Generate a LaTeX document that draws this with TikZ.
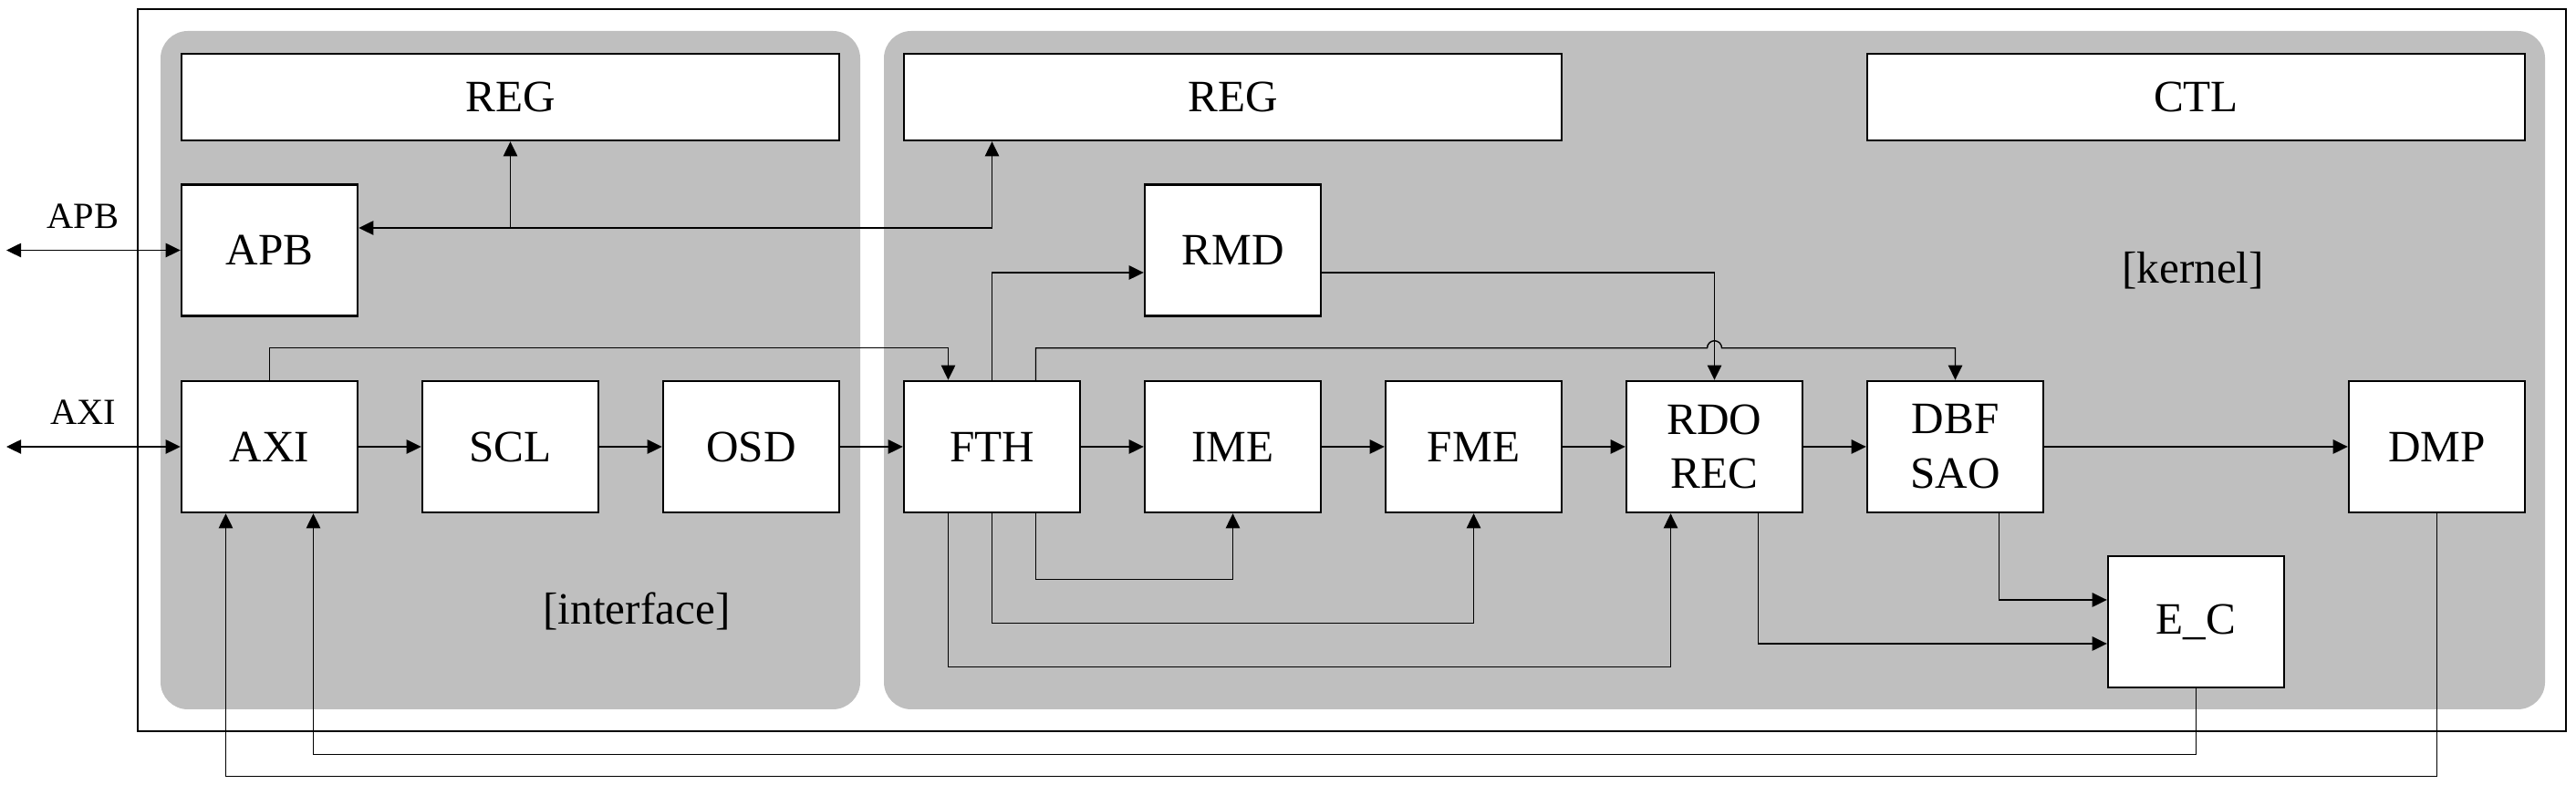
\documentclass[tikz,border=0pt]{standalone}
\usepackage{fontspec}
\setmainfont{Liberation Serif}
\usetikzlibrary{arrows.meta,calc}

\begin{document}
\begin{tikzpicture}[
	blk/.style={draw, fill=white, line width=0.7pt, minimum width=1.93cm, minimum height=1.44cm, inner sep=0pt, align=center, font=\fontsize{14}{17}\selectfont},
	wide/.style={blk, minimum width=7.21cm, minimum height=0.95cm},
	conn/.style={line width=0.4pt, -{Triangle[length=4.6pt,width=4.4pt]}},
	lbl/.style={font=\fontsize{14}{17}\selectfont},
	extlbl/.style={font=\fontsize{11.5}{14}\selectfont},
	]
	\newcommand{\panelcolor}{black!25}
	
		\def\outerbox{(1.51,0.59) rectangle (28.13,8.51)}
		\def\panelIF{(1.76,0.83) rectangle (9.43,8.27)}
		\def\panelKN{(9.69,0.83) rectangle (27.90,8.27)}

		\useasboundingbox (0,0) rectangle (28.24,8.61);
		\draw[line width=0.7pt] \outerbox;
		\fill[\panelcolor, rounded corners=0.3cm] \panelIF;
		\fill[\panelcolor, rounded corners=0.3cm] \panelKN;

		% register / control blocks
		\node[wide] (regA) at (5.595,7.545) {REG};
		\node[wide] (regB) at (13.515,7.545) {REG};
		\node[wide] (ctl) at (24.075,7.545) {CTL};

		\node[blk] (apb) at (2.955,5.865) {APB};
		\node[blk] (rmd) at (13.515,5.865) {RMD};

		% main pipeline
		\node[blk] (axi) at (2.955,3.71) {AXI};
		\node[blk] (scl) at (5.595,3.71) {SCL};
		\node[blk] (osd) at (8.235,3.71) {OSD};
		\node[blk] (fth) at (10.875,3.71) {FTH};
		\node[blk] (ime) at (13.515,3.71) {IME};
		\node[blk] (fme) at (16.155,3.71) {FME};
		\node[blk] (rdo) at (18.795,3.71) {RDO\\REC};
		\node[blk] (dbf) at (21.435,3.71) {DBF\\SAO};
		\node[blk] (dmp) at (26.715,3.71) {DMP};
		\node[blk] (ec) at (24.075,1.79) {E\_C};

		\node[lbl] (iflbl) at (6.98,1.91) {[interface]};
		\node[lbl] (knlbl) at (24.04,5.64) {[kernel]};

		% outside ports
		\coordinate (apbext) at (0.07,5.865);
		\coordinate (axiext) at (0.07,3.71);
		\node[extlbl] (apblbl) at (0.91,6.24) {APB};
		\node[extlbl] (axilbl) at (0.91,4.09) {AXI};
		\draw[conn, {Triangle[length=4.6pt,width=4.4pt]}-{Triangle[length=4.6pt,width=4.4pt]}] (apbext) -- (apb.west);
		\draw[conn, {Triangle[length=4.6pt,width=4.4pt]}-{Triangle[length=4.6pt,width=4.4pt]}] (axiext) -- (axi.west);

		% register bus
		\coordinate (apbbus) at ([yshift=2.45mm]apb.east);
		\draw[conn, {Triangle[length=4.6pt,width=4.4pt]}-{Triangle[length=4.6pt,width=4.4pt]}] (apbbus) -| (fth.north |- regB.south);
		\draw[conn] (regA.south |- apbbus) -- (regA.south);

		\foreach \a/\b in {axi/scl, scl/osd, osd/fth, fth/ime, ime/fme, fme/rdo, rdo/dbf, dbf/dmp}
			\draw[conn] (\a) -- (\b);

		% links above the pipeline
		\draw[conn] (axi.north) -- ++(0,0.35) -| ([xshift=-4.8mm]fth.north);
		\draw[conn] (fth.north) |- ([yshift=-2.45mm]rmd.west);
		\draw[conn] ([yshift=-2.45mm]rmd.east) -| (rdo.north);
		\coordinate (hop) at ($(rdo.north)+(0,0.35)$);
		\draw[conn] ([xshift=4.8mm]fth.north) -- ++(0,0.35) -- ([xshift=-0.8mm]hop) arc[start angle=180, end angle=0, radius=0.8mm] -| (dbf.north);

		% links below the pipeline
		\draw[conn] ([xshift=4.8mm]fth.south) -- ++(0,-0.72) -| (ime.south);
		\draw[conn] (fth.south) -- ++(0,-1.2) -| (fme.south);
		\draw[conn] ([xshift=-4.8mm]fth.south) -- ++(0,-1.68) -| ([xshift=-4.8mm]rdo.south);
		\draw[conn] ([xshift=4.8mm]dbf.south) |- ([yshift=2.4mm]ec.west);
		\draw[conn] ([xshift=4.8mm]rdo.south) |- ([yshift=-2.4mm]ec.west);

		% feedback to AXI
		\draw[conn] (ec.south) -- ++(0,-0.72) -| ([xshift=4.8mm]axi.south);
		\draw[conn] (dmp.south) -- ++(0,-2.88) -| ([xshift=-4.8mm]axi.south);
	\end{tikzpicture}
\end{document}
